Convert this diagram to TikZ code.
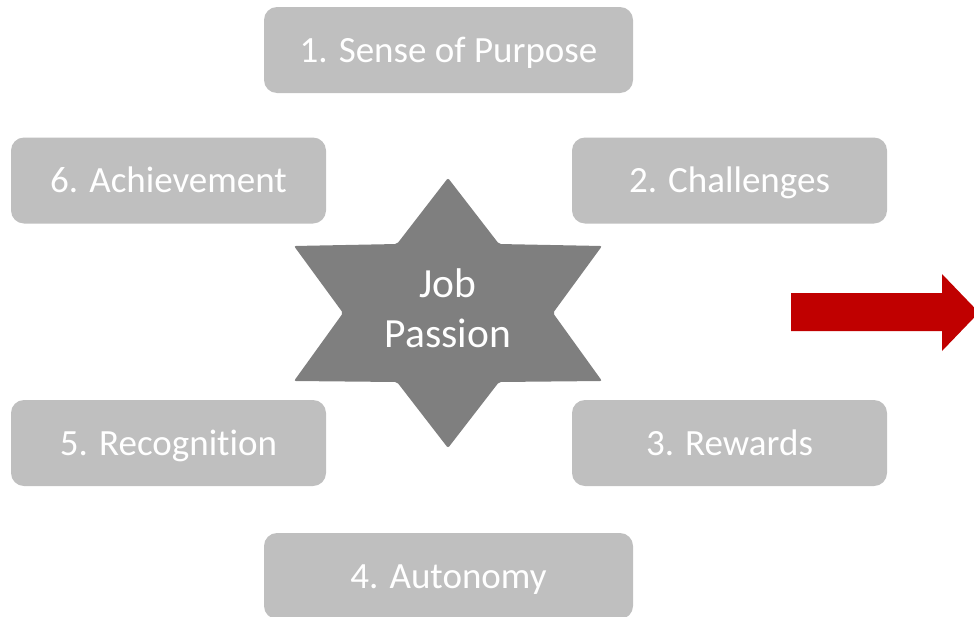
\documentclass[tikz,border=0pt]{standalone}
\usepackage{fontspec}
\setmainfont{Carlito}[Ligatures=NoCommon]
\definecolor{boxgray}{HTML}{BFBFBF}
\definecolor{stargray}{HTML}{7F7F7F}
\definecolor{arrowred}{HTML}{C00000}
\begin{document}
\begin{tikzpicture}[x=1pt,y=-1pt,
  factor/.style={fill=boxgray, rounded corners=13pt, text=white, inner sep=0pt,
    text height=24pt, text depth=0pt, font=\fontsize{37}{45}\selectfont},
  widebox/.style={factor, minimum width=369pt, minimum height=86pt},
  sidebox/.style={factor, minimum width=315pt, minimum height=86pt}]
\clip (0,0) rectangle (974,616);
\useasboundingbox (0,0) rectangle (974,616);

% surrounding factors
\node[widebox] (purpose)     at (448.5,50)    {1. Sense of Purpose};
\node[sidebox] (challenges)  at (729.5,180.5) {2. Challenges};
\node[sidebox] (rewards)     at (729.5,443)   {3. Rewards};
\node[widebox] (autonomy)    at (448.5,576)   {4. Autonomy};
\node[sidebox] (recognition) at (168.5,443)   {5. Recognition};
\node[sidebox] (achievement) at (168.5,180.5) {6. Achievement};

% six-pointed star in the middle
\coordinate (s1) at (448,178);
\coordinate (s2) at (499,244);
\coordinate (s3) at (602,246);
\coordinate (s4) at (553,313);
\coordinate (s5) at (602,381);
\coordinate (s6) at (499,382);
\coordinate (s7) at (448,448);
\coordinate (s8) at (397,382);
\coordinate (s9) at (294,381);
\coordinate (s10) at (343,313);
\coordinate (s11) at (294,246);
\coordinate (s12) at (397,244);
\fill[stargray, rounded corners=2pt] (s1) -- (s2) -- (s3) -- (s4) -- (s5) -- (s6)
  -- (s7) -- (s8) -- (s9) -- (s10) -- (s11) -- (s12) -- cycle;
\node[text=white, align=center, font=\fontsize{41.5}{50}\selectfont] (core) at (448,308) {Job\\Passion};

% block arrow on the right
\fill[arrowred] (791,293) -- (942,293) -- (942,274) -- (979,312.5) -- (942,351)
  -- (942,331) -- (791,331) -- cycle;
\end{tikzpicture}
\end{document}
